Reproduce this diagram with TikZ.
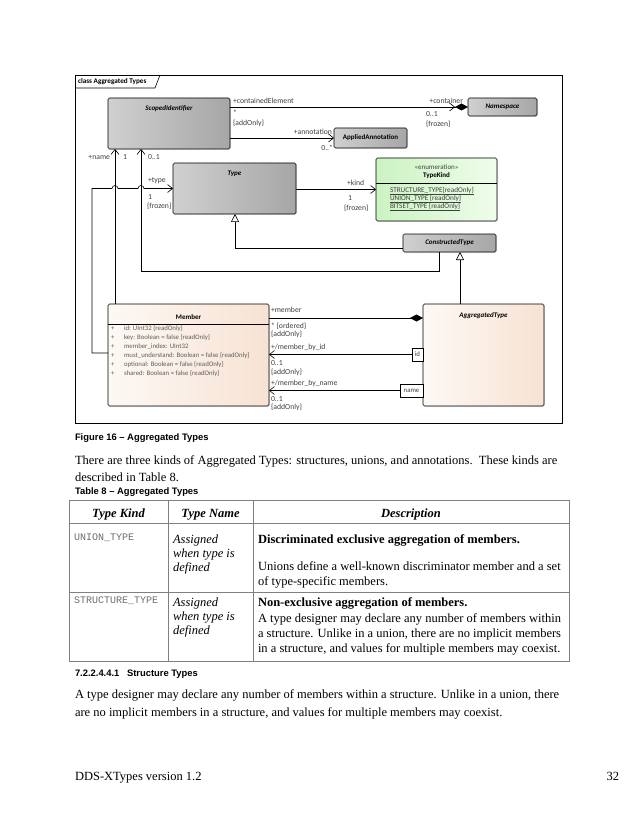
\documentclass[tikz,border=0pt]{standalone}
\usepackage{fontspec}
\setmainfont{Liberation Serif}
\setsansfont{Liberation Sans}
\setmonofont{Liberation Mono}
\newfontfamily\eafont{Carlito}
\usetikzlibrary{arrows.meta,shadows}

\definecolor{grayL}{RGB}{208,208,208}
\definecolor{grayR}{RGB}{166,166,166}
\definecolor{enumL}{RGB}{204,243,194}
\definecolor{enumR}{RGB}{238,253,234}
\definecolor{peachL}{RGB}{253,249,245}
\definecolor{peachR}{RGB}{247,226,211}
\definecolor{eatext}{RGB}{64,64,64}
\definecolor{tabrule}{RGB}{128,128,128}
\definecolor{monogray}{RGB}{110,110,110}

\begin{document}
\begin{tikzpicture}[x=1pt,y=-1pt,
		every node/.style={inner sep=0pt,outer sep=0pt},
		cls/.style={draw,line width=.6pt,rounded corners=1.5pt,drop shadow={opacity=.2,shadow xshift=1pt,shadow yshift=-1pt}},
		grayclass/.style={cls,left color=grayL,right color=grayR},
		enumclass/.style={cls,left color=enumL,right color=enumR},
		peachclass/.style={cls,left color=peachL,right color=peachR},
		port/.style={draw,fill=white,line width=.6pt,minimum height=13pt,font=\eafont\fontsize{6.8}{7}\selectfont,text=eatext},
		ttl/.style={font=\eafont\bfseries\itshape\fontsize{7}{8}\selectfont},
		ttlup/.style={font=\eafont\bfseries\fontsize{7}{8}\selectfont},
		lbl/.style={font=\eafont\fontsize{7.7}{8}\selectfont,text=eatext,anchor=west},
		enumlit/.style={font=\eafont\fontsize{7.2}{8}\selectfont,text=eatext,anchor=west},
		attr/.style={font=\eafont\fontsize{6.8}{8}\selectfont,text=eatext!85,anchor=west},
		assoc/.style={line width=.6pt,-{Straight Barb[length=5pt,width=8pt,line width=.6pt]}},
		gen/.style={line width=.6pt,-{Triangle[open,fill=white,length=8pt,width=8pt,line width=.6pt]}},
		comp/.style={line width=.6pt,-{Diamond[length=13pt,width=7pt]}},
		body/.style={font=\fontsize{12.5}{15}\selectfont,anchor=base west},
		head/.style={font=\sffamily\bfseries\fontsize{9.4}{11}\selectfont,anchor=base west},
		cell/.style={font=\fontsize{12.5}{15}\selectfont,anchor=base west}]
	\fill[white] (0,0) rectangle (638,826);
	\useasboundingbox (0,0) rectangle (638,826);

	\draw[line width=.7pt] (75,75) rectangle (562,423);
	\draw[line width=.6pt] (75,88) -- (155,88) -- (160,75);
	\node[font=\eafont\bfseries\fontsize{7.2}{8}\selectfont,anchor=west] (frametab) at (78,82) {class Aggregated Types};

	\node[grayclass,minimum width=122pt,minimum height=51pt] (sid) at (169,123.5) {};
	\node[grayclass,minimum width=69pt,minimum height=18pt] (ns) at (502.5,107) {};
	\node[grayclass,minimum width=73pt,minimum height=20pt] (aa) at (370.5,138) {};
	\node[grayclass,minimum width=123pt,minimum height=51pt] (type) at (234.5,188.5) {};
	\node[enumclass,minimum width=121pt,minimum height=63pt] (tk) at (436.5,189.5) {};
	\node[grayclass,minimum width=93pt,minimum height=18pt] (ct) at (449.5,243) {};
	\node[peachclass,minimum width=161pt,minimum height=102pt] (mem) at (188.5,355) {};
	\node[peachclass,minimum width=121pt,minimum height=102pt] (agg) at (483.5,355) {};
	\node[port,minimum width=11pt,anchor=east] (pid) at (agg.west |- 0,354.5) {id};
	\node[port,minimum width=23pt,anchor=east] (pname) at (agg.west |- 0,390.5) {name};

	\node[ttl] (sidttl) at (169,109) {ScopedIdentifier};
	\node[ttl] (nsttl) at (ns) {Namespace};
	\node[ttlup] (aattl) at (aa) {AppliedAnnotation};
	\node[ttl] (typettl) at (234.5,174) {Type};
	\node[ttl] (cttl) at (ct) {ConstructedType};
	\node[ttlup] (memttl) at (188.5,317) {Member};
	\node[ttl] (aggttl) at (483.5,316) {AggregatedType};

	\node[font=\eafont\fontsize{7}{8}\selectfont,text=eatext] (tkst) at (436.5,167) {«enumeration»};
	\node[ttlup] (tkttl) at (436.5,176) {TypeKind};
	\draw[line width=.6pt] (tk.west |- 0,183) -- (tk.east |- 0,183);
	\node[enumlit] (tk1) at (390,191) {\underline{STRUCTURE\_TYPE\{readOnly\}}};
	\node[enumlit] (tk2) at (390,199) {\underline{UNION\_TYPE \{readOnly\}}};
	\node[enumlit] (tk3) at (390,207) {\underline{BITSET\_TYPE \{readOnly\}}};

	\draw[line width=.6pt] (mem.west |- 0,324) -- (mem.east |- 0,324);
	\foreach \txt [count=\i from 0] in {id: UInt32 \{readOnly\},key: Boolean = false \{readOnly\},member\_index: UInt32,must\_understand: Boolean = false \{readOnly\},optional: Boolean = false \{readOnly\},shared: Boolean = false \{readOnly\}}{
		\node[attr] (plus\i) at (111,329+9*\i) {+};
		\node[attr] (attr\i) at (124,329+9*\i) {\txt};
	}

	\draw[comp] (sid.east |- ns.west) -- (ns.west);
	\draw[assoc,shorten >=13pt] (sid.east |- ns.west) -- (ns.west);
	\draw[assoc] (sid.east |- aa.west) -- (aa.west);
	\draw[assoc] (type.east |- tk.west) -- (tk.west);
	\draw[assoc] (mem.west |- 0,353) -- (92,353) -- (92,188.5) -- (112,188.5) arc[start angle=180,end angle=360,radius=3] -- (138,188.5) arc[start angle=180,end angle=360,radius=3] -- (type.west);
	\draw[assoc] (mem.north -| 115,0) -- (sid.south -| 115,0);
	\draw[assoc] (ct.south -| 439,0) -- (439,271) -- (141,271) -- (sid.south -| 141,0);
	\draw[gen] (ct.west |- 0,248) -- (235,248) -- (type.south -| 235,0);
	\draw[gen] (agg.north -| 460,0) -- (ct.south -| 460,0);
	\draw[comp] (mem.east |- 0,318) -- (agg.west |- 0,318);
	\draw[assoc] (pid.west) -- (mem.east |- pid.west);
	\draw[assoc] (pname.west) -- (mem.east |- pname.west);

	\node[lbl] (lcont) at (233,101) {+containedElement};
	\node[lbl] (lcontm) at (233,113) {*};
	\node[lbl] (lconta) at (233,123) {\{addOnly\}};
	\node[lbl,anchor=east] (lcontr) at (463,101) {+container};
	\node[lbl] (lcontrm) at (426,114) {0..1};
	\node[lbl] (lcontrf) at (426,124) {\{frozen\}};
	\node[lbl,anchor=east] (lann) at (332,132) {+annotation};
	\node[lbl,anchor=east] (lannm) at (333,148) {0..*};
	\node[lbl,anchor=east] (lname) at (110,157) {+name};
	\node[lbl] (lnamem) at (123,157) {1};
	\node[lbl] (lctm) at (148,157) {0..1};
	\node[lbl] (ltype) at (148,181) {+type};
	\node[lbl] (ltypem) at (148,197) {1};
	\node[lbl] (ltypef) at (147,206) {\{frozen\}};
	\node[lbl] (lkind) at (347,183) {+kind};
	\node[lbl] (lkindm) at (348,198) {1};
	\node[lbl] (lkindf) at (344,208) {\{frozen\}};
	\node[lbl] (lmem) at (271,310) {+member};
	\node[lbl] (lmemm) at (271,326) {* \{ordered\}};
	\node[lbl] (lmema) at (271,334) {\{addOnly\}};
	\node[lbl] (lbyid) at (271,347) {+/member\_by\_id};
	\node[lbl] (lbyidm) at (271,363) {0..1};
	\node[lbl] (lbyida) at (271,372) {\{addOnly\}};
	\node[lbl] (lbyname) at (271,383) {+/member\_by\_name};
	\node[lbl] (lbynamem) at (271,399) {0..1};
	\node[lbl] (lbynamea) at (271,407) {\{addOnly\}};

	\node[head] (figcap) at (75,440.5) {Figure 16 – Aggregated Types};
	\node[body] (par1a) at (75,464) {There are three kinds of Aggregated Types: structures, unions, and annotations.\ \ These kinds are};
	\node[body] (par1b) at (75,481) {described in Table 8.};
	\node[head] (tabcap) at (75,494.5) {Table 8 – Aggregated Types};

	\draw[tabrule,line width=.8pt] (69,500) rectangle (569,661);
	\draw[tabrule,line width=.8pt] (69,523) -- (569,523) (69,592) -- (569,592) (168,500) -- (168,661) (253,500) -- (253,661);
	\node[cell,anchor=base,font=\bfseries\itshape\fontsize{12.5}{15}\selectfont] (hkind) at (118.5,517) {Type Kind};
	\node[cell,anchor=base,font=\bfseries\itshape\fontsize{12.5}{15}\selectfont] (hname) at (210.5,517) {Type Name};
	\node[cell,anchor=base,font=\bfseries\itshape\fontsize{12.5}{15}\selectfont] (hdesc) at (411,517) {Description};

	\node[cell,font=\ttfamily\fontsize{10}{12}\selectfont,text=monogray] (kunion) at (74,540) {UNION\_TYPE};
	\node[cell,font=\itshape\fontsize{12.5}{15}\selectfont] (nu1) at (173,543) {Assigned};
	\node[cell,font=\itshape\fontsize{12.5}{15}\selectfont] (nu2) at (173,557) {when type is};
	\node[cell,font=\itshape\fontsize{12.5}{15}\selectfont] (nu3) at (173,571) {defined};
	\node[cell,font=\bfseries\fontsize{12.5}{15}\selectfont] (du1) at (258,543) {Discriminated exclusive aggregation of members.};
	\node[cell] (du2) at (258,570) {Unions define a well-known discriminator member and a set};
	\node[cell] (du3) at (258,585) {of type-specific members.};

	\node[cell,font=\ttfamily\fontsize{10}{12}\selectfont,text=monogray] (kstruct) at (74,603) {STRUCTURE\_TYPE};
	\node[cell,font=\itshape\fontsize{12.5}{15}\selectfont] (ns1) at (173,606) {Assigned};
	\node[cell,font=\itshape\fontsize{12.5}{15}\selectfont] (ns2) at (173,620) {when type is};
	\node[cell,font=\itshape\fontsize{12.5}{15}\selectfont] (ns3) at (173,634) {defined};
	\node[cell,font=\bfseries\fontsize{12.5}{15}\selectfont] (ds1) at (258,606) {Non-exclusive aggregation of members.};
	\node[cell] (ds2) at (258,622) {A type designer may declare any number of members within};
	\node[cell] (ds3) at (258,637) {a structure. Unlike in a union, there are no implicit members};
	\node[cell] (ds4) at (258,652) {in a structure, and values for multiple members may coexist.};

	\node[head] (secnum) at (75,676.5) {7.2.2.4.4.1};
	\node[head] (sectitle) at (127,676.5) {Structure Types};
	\node[body] (par2a) at (75,698) {A type designer may declare any number of members within a structure. Unlike in a union, there};
	\node[body] (par2b) at (75,716) {are no implicit members in a structure, and values for multiple members may coexist.};

	\node[body] (foot) at (75,780) {DDS-XTypes version 1.2};
	\node[body,anchor=base east] (pageno) at (619,780) {32};
\end{tikzpicture}
\end{document}
